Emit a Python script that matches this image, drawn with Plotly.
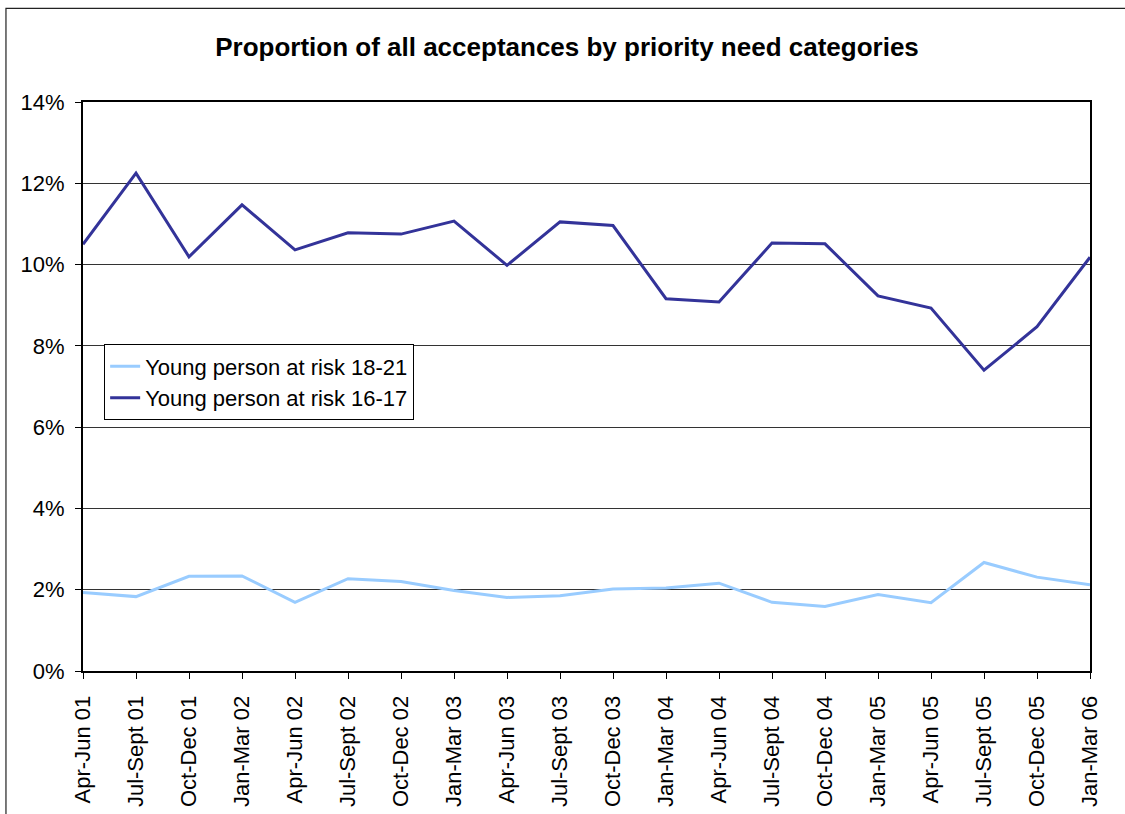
import plotly.graph_objects as go

# Quarterly periods
quarters = [
    "Apr-Jun 01", "Jul-Sept 01", "Oct-Dec 01", "Jan-Mar 02",
    "Apr-Jun 02", "Jul-Sept 02", "Oct-Dec 02", "Jan-Mar 03",
    "Apr-Jun 03", "Jul-Sept 03", "Oct-Dec 03", "Jan-Mar 04",
    "Apr-Jun 04", "Jul-Sept 04", "Oct-Dec 04", "Jan-Mar 05",
    "Apr-Jun 05", "Jul-Sept 05", "Oct-Dec 05", "Jan-Mar 06",
]

# Share of all acceptances (fractions)
risk_18_21 = [
    0.0193, 0.0183, 0.0233, 0.0234, 0.0169, 0.0227, 0.0220, 0.0198,
    0.0181, 0.0185, 0.0202, 0.0204, 0.0216, 0.0169, 0.0159, 0.0188,
    0.0168, 0.0267, 0.0231, 0.0212,
]
risk_16_17 = [
    0.1050, 0.1225, 0.1019, 0.1147, 0.1036, 0.1078, 0.1075, 0.1107,
    0.0998, 0.1105, 0.1096, 0.0916, 0.0908, 0.1053, 0.1051, 0.0923,
    0.0893, 0.0740, 0.0847, 0.1018,
]

y_ticks = [0, 0.02, 0.04, 0.06, 0.08, 0.10, 0.12, 0.14]

FONT = "Liberation Sans, Arial, sans-serif"

fig = go.Figure()
fig.add_trace(go.Scatter(
    x=quarters, y=risk_18_21, mode="lines",
    name="Young person at risk 18-21",
    line=dict(color="#99CCFF", width=3),
))
fig.add_trace(go.Scatter(
    x=quarters, y=risk_16_17, mode="lines",
    name="Young person at risk 16-17",
    line=dict(color="#333399", width=3),
))

fig.update_layout(
    width=1125, height=814,
    margin=dict(l=83, r=35, t=102, b=143),
    paper_bgcolor="white", plot_bgcolor="white",
    font=dict(family=FONT, size=22, color="black"),
    title=dict(
        text="<b>Proportion of all acceptances by priority need categories</b>",
        x=0.504, xanchor="center", y=1 - 47 / 814, yanchor="middle",
        yref="container",
        font=dict(family=FONT, size=26, color="black"),
    ),
    showlegend=True,
    legend=dict(
        x=0.021, y=0.574, xanchor="left", yanchor="top",
        bgcolor="white", bordercolor="black", borderwidth=1,
        font=dict(family=FONT, size=22, color="black"),
        traceorder="normal", itemwidth=30,
    ),
    shapes=[
        # outer chart-area frame (left and top edges visible)
        dict(type="rect", xref="paper", yref="paper",
             x0=-0.0765, x1=1.2, y0=-0.5, y1=1.1645,
             line=dict(color="#222222", width=1.2), layer="below"),
    ],
)

fig.update_xaxes(
    type="category", range=[0, len(quarters) - 1], automargin=False,
    showline=True, linecolor="black", linewidth=2, mirror=True,
    ticks="outside", ticklen=6, tickcolor="black", tickwidth=1,
    tickangle=-90, showgrid=False, ticklabelstandoff=8,
    tickfont=dict(family=FONT, size=22, color="black"),
)
fig.update_yaxes(
    range=[0, 0.14], tickvals=y_ticks, tickformat=".0%", automargin=False,
    showline=True, linecolor="black", linewidth=2, mirror=True,
    ticks="outside", ticklen=6, tickcolor="black", tickwidth=1,
    showgrid=True, gridcolor="#333333", gridwidth=1,
    zeroline=False, ticklabelstandoff=6,
    tickfont=dict(family=FONT, size=22, color="black"),
)

fig.write_html("out.html")
